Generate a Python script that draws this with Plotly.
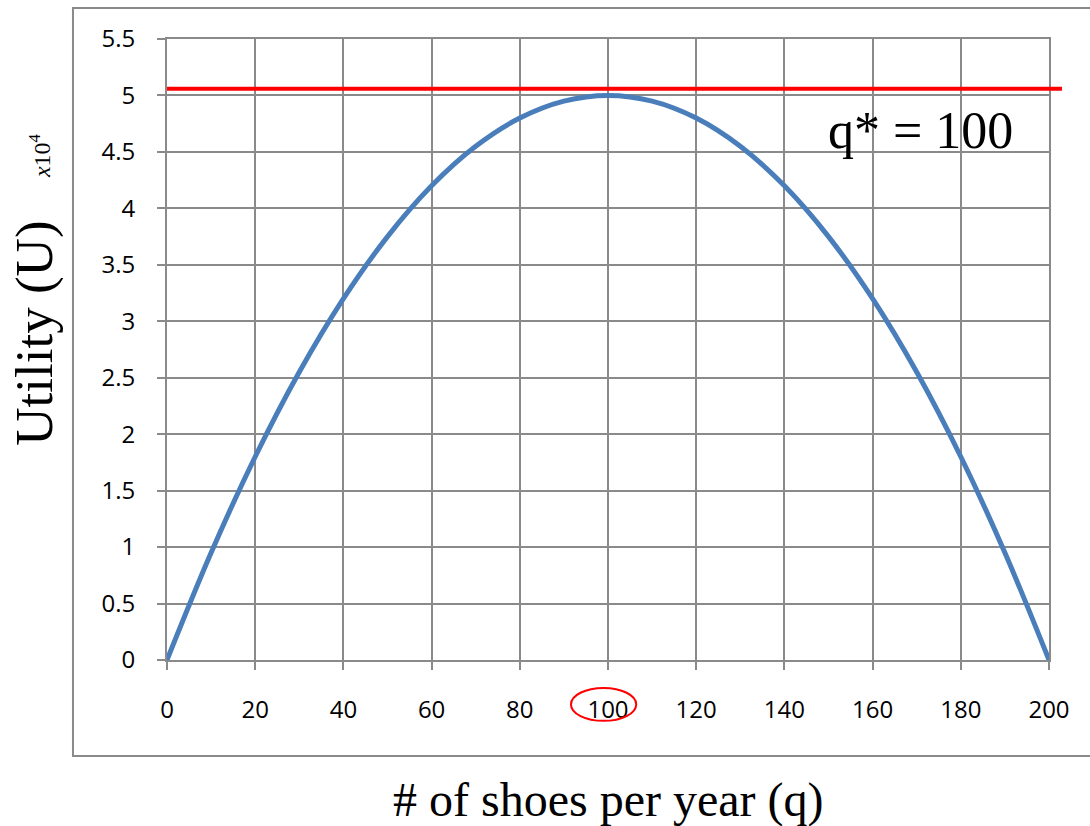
import plotly.graph_objects as go

# Data
q_values = [0, 10, 20, 30, 40, 50, 60, 70, 80, 90, 100,
            110, 120, 130, 140, 150, 160, 170, 180, 190, 200]
utility_x1e4 = [0, 0.95, 1.8, 2.55, 3.2, 3.75, 4.2, 4.55, 4.8, 4.95, 5.0,
                4.95, 4.8, 4.55, 4.2, 3.75, 3.2, 2.55, 1.8, 0.95, 0]
max_level = 5.06
x_ticks = [0, 20, 40, 60, 80, 100, 120, 140, 160, 180, 200]
y_ticks = [0, 0.5, 1, 1.5, 2, 2.5, 3, 3.5, 4, 4.5, 5, 5.5]
Y_MAX = 5.5
X_MAX = 200

GRID = "#8a8a8a"
SERIF = "Liberation Serif"
SANS = "Open Sans"

fig = go.Figure()
fig.add_trace(go.Scatter(
    x=q_values, y=utility_x1e4, mode="lines",
    line=dict(color="#4a7ebb", width=5, shape="spline"),
    showlegend=False, hoverinfo="skip"))

axis_common = dict(
    showgrid=True, gridcolor=GRID, gridwidth=2,
    showline=True, linecolor=GRID, linewidth=2, mirror=True,
    ticks="outside", ticklen=8, tickcolor=GRID, tickwidth=2,
    zeroline=False, tickfont=dict(family=SANS, size=24, color="#000000"),
)

fig.update_xaxes(range=[0, X_MAX], tickvals=x_ticks,
                 ticktext=[str(v) for v in x_ticks],
                 ticklabelstandoff=19, **axis_common)
fig.update_yaxes(range=[0, Y_MAX], tickvals=y_ticks,
                 ticktext=[("%g" % v) for v in y_ticks],
                 ticklabelstandoff=17, **axis_common)

shapes = [
    # outer chart border
    dict(type="rect", xref="paper", yref="paper",
         x0=-0.1066, x1=1.06, y0=-0.1546, y1=1.05,
         line=dict(color=GRID, width=2), fillcolor="rgba(0,0,0,0)", layer="below"),
    # red max-utility line (extends slightly past the plot area)
    dict(type="line", xref="paper", yref="paper",
         x0=0, x1=1.0147, y0=max_level / Y_MAX, y1=max_level / Y_MAX,
         line=dict(color="#ff0000", width=4)),
    # red ellipse around the 100 tick label
    dict(type="circle", xref="paper", yref="paper",
         x0=0.458, x1=0.532, y0=-0.098, y1=-0.045,
         line=dict(color="#ff0000", width=2)),
]

ann_common = dict(xref="paper", yref="paper", showarrow=False,
                  xanchor="center", yanchor="middle")
annotations = [
    dict(text="q* = 100", x=0.854, y=0.853,
         font=dict(family=SERIF, size=52, color="#000000"), **ann_common),
    dict(text="Utility (U)", x=-0.1497, y=0.527, textangle=-90,
         font=dict(family=SERIF, size=53, color="#000000"), **ann_common),
    dict(text="<i>x</i>10<sup>4</sup>", x=-0.144, y=0.813, textangle=-90,
         font=dict(family=SERIF, size=24, color="#000000"), **ann_common),
    dict(text="# of shoes per year (q)", x=0.5, y=-0.2254,
         font=dict(family=SERIF, size=48, color="#000000"), **ann_common),
]

fig.update_layout(
    width=1090, height=826,
    margin=dict(l=167, r=41, t=39, b=166),
    paper_bgcolor="white", plot_bgcolor="white",
    shapes=shapes, annotations=annotations,
)

fig.write_html("out.html")
